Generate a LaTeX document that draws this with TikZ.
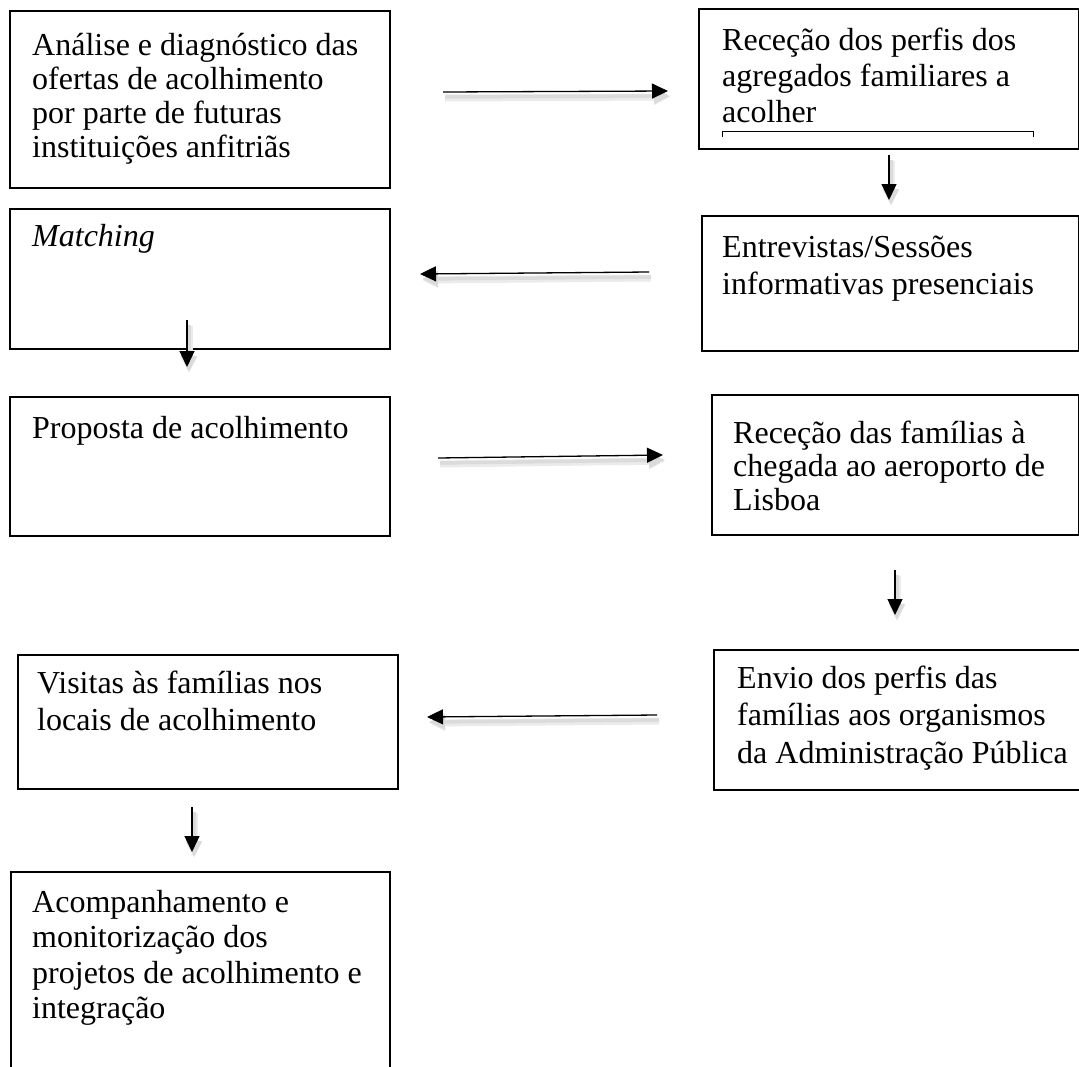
\documentclass[tikz,border=0pt]{standalone}
\usepackage{fontspec}
\setmainfont{Liberation Serif}
\usetikzlibrary{arrows.meta}
\tikzset{
  boxnode/.style={draw, line width=1.6pt, inner sep=0pt, anchor=north west},
  txt/.style={anchor=base west, inner sep=0pt, font=\fontsize{32}{34}\selectfont},
  arrowline/.style={line width=1.3pt, -{Triangle[length=16pt,width=15pt]},
    preaction={draw=black!8, line width=7pt,
      transform canvas={shift={(2pt,-6pt)}}},
    preaction={draw=black!14, line width=3.5pt,
      transform canvas={shift={(2pt,-5pt)}}}},
  bracketline/.style={line width=1pt}
}
\begin{document}
\begin{tikzpicture}[x=1pt,y=-1pt]
\useasboundingbox (0,0) rectangle (1079,1066);
\clip (0,0) rectangle (1079,1066);
% arrow end points
\coordinate (a1s) at (443,92);  \coordinate (a1e) at (668,91);
\coordinate (a2s) at (889,155); \coordinate (a2e) at (889,200);
\coordinate (a3s) at (649,272); \coordinate (a3e) at (420,274);
\coordinate (a4s) at (187,320); \coordinate (a4e) at (187,367);
\coordinate (a5s) at (438,458); \coordinate (a5e) at (663,455);
\coordinate (a6s) at (895,570); \coordinate (a6e) at (895,615);
\coordinate (a7s) at (657,715); \coordinate (a7e) at (427,717);
\coordinate (a8s) at (192,807); \coordinate (a8e) at (192,852);
% boxes
\node[boxnode, minimum width=380pt, minimum height=177pt] (b1) at (9,10) {};
\node[boxnode, minimum width=380pt, minimum height=140pt] (b2) at (698,8) {};
\node[boxnode, minimum width=380pt, minimum height=140pt] (b3) at (9,208) {};
\node[boxnode, minimum width=377pt, minimum height=135pt] (b4) at (701,215) {};
\node[boxnode, minimum width=380pt, minimum height=139pt] (b5) at (9,396) {};
\node[boxnode, minimum width=367pt, minimum height=140pt] (b6) at (711,394) {};
\node[boxnode, minimum width=390pt, minimum height=140pt] (b7) at (713,649) {};
\node[boxnode, minimum width=380pt, minimum height=134pt] (b8) at (17,654) {};
\node[boxnode, minimum width=379pt, minimum height=230pt] (b9) at (10,871) {};
% texts
\node[txt] (t1) at (32,55) {\vtop{\baselineskip=34pt
  \hbox{Análise e diagnóstico das}\hbox{ofertas de acolhimento}
  \hbox{por parte de futuras}\hbox{instituições anfitriãs}}};
\node[txt] (t2) at (722,50) {\vtop{\baselineskip=36pt
  \hbox{Receção dos perfis dos}\hbox{agregados familiares a}\hbox{acolher}}};
\draw[bracketline] (722,137) -- (722,131) -- (1033,131) -- (1033,137);
\node[txt] (t3) at (32,246) {\textit{Matching}};
\node[txt] (t4) at (722,257) {\vtop{\baselineskip=37pt
  \hbox{Entrevistas/Sessões}\hbox{informativas presenciais}}};
\node[txt] (t5) at (32,438) {Proposta de acolhimento};
\node[txt] (t6) at (733,443) {\vtop{\baselineskip=33.5pt
  \hbox{Receção das famílias à}\hbox{chegada ao aeroporto de}\hbox{Lisboa}}};
\node[txt] (t7) at (737,688) {\vtop{\baselineskip=37.5pt
  \hbox{Envio dos perfis das}\hbox{famílias aos organismos}\hbox{da Administração Pública}}};
\node[txt] (t8) at (37,693) {\vtop{\baselineskip=37pt
  \hbox{Visitas às famílias nos}\hbox{locais de acolhimento}}};
\node[txt] (t9) at (32,912) {\vtop{\baselineskip=35.5pt
  \hbox{Acompanhamento e}\hbox{monitorização dos}
  \hbox{projetos de acolhimento e}\hbox{integração}}};
% connectors
\draw[arrowline] (a1s) -- (a1e);
\draw[arrowline] (a2s) -- (a2e);
\draw[arrowline] (a3s) -- (a3e);
\draw[arrowline] (a4s) -- (a4e);
\draw[arrowline] (a5s) -- (a5e);
\draw[arrowline] (a6s) -- (a6e);
\draw[arrowline] (a7s) -- (a7e);
\draw[arrowline] (a8s) -- (a8e);
\end{tikzpicture}
\end{document}
